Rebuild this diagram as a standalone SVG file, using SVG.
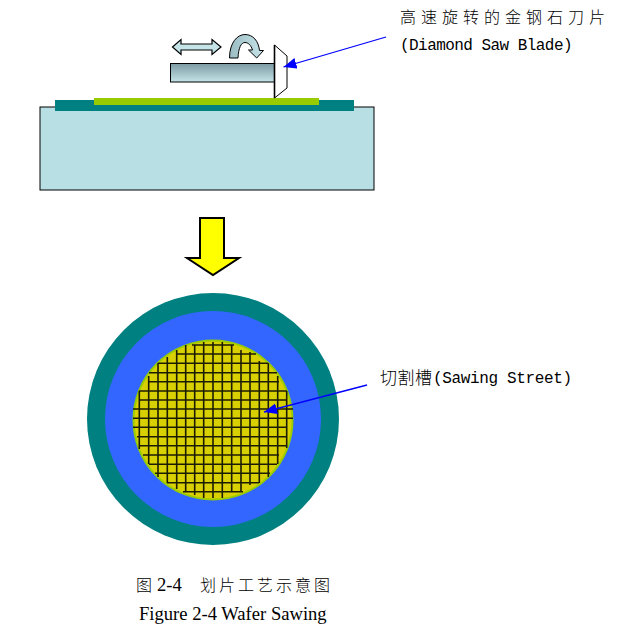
<svg xmlns="http://www.w3.org/2000/svg" width="619" height="629" viewBox="0 0 619 629">
<style>
.ol{stroke:#000;stroke-width:1}
.mono{font-family:"Liberation Mono",monospace;font-size:16px;fill:#000}
.cjk{font-family:"Noto Sans CJK SC",sans-serif;font-size:16px;fill:#000;font-weight:300}
.ser{font-family:"Liberation Serif",serif;font-size:18.600px;fill:#000}
.ptr{stroke:#0000ff;stroke-width:1.300;fill:none;marker-end:url(#ah)}
</style>
<defs>
<linearGradient id="shaft" x1="0" y1="0" x2="0" y2="1"><stop offset="0" stop-color="#7b9aa2"/><stop offset="1" stop-color="#c4e4e8"/></linearGradient>
<linearGradient id="curl" x1="0" y1="0" x2="1" y2="0"><stop offset="0" stop-color="#9cbcc4"/><stop offset="1" stop-color="#c4e4e8"/></linearGradient>
<marker id="ah" markerUnits="userSpaceOnUse" markerWidth="14" markerHeight="12" refX="13" refY="5.500" orient="auto"><path d="M0,0 L13,5.500 L0,11 Z" fill="#0000ff"/></marker>
</defs>
<rect width="619" height="629" fill="#fff"/>
<g id="table"><rect x="40" y="107" width="334" height="83" fill="#b8dfe3" class="ol"/></g>
<g id="tape"><rect x="55" y="100" width="299" height="11" fill="#008080"/></g>
<g id="wafer-side"><rect x="94" y="98" width="225" height="7" fill="#99cc00"/></g>
<g id="spindle"><rect x="170.500" y="63.500" width="104" height="18.500" fill="url(#shaft)" class="ol"/></g>
<g id="blade"><path d="M274.500,45 L287,56 L287,88 L274.500,98 Z" fill="#fff" class="ol"/><path d="M274.500,45 V98" stroke="#000" stroke-width="1.600"/></g>
<g id="move-arrow"><path d="M172.500,47 L181,39.500 V44 H212 V39.500 L221,47 L212,54.500 V50 H181 V54.500 Z" fill="#c4e4e8" stroke="#000" stroke-width="1.200"/></g>
<g id="spin-arrow"><path d="M229.500,58 C229.500,43 237,34.500 245,34.500 C253,34.500 258.500,41 259.500,50.500 L263.500,50.500 L256.700,58 L248.500,50 L252.500,50 C251,45 248,42.500 245,42.500 C241,42.500 238.500,48 238,58 Z" fill="url(#curl)" stroke="#000" stroke-width="1"/></g>
<g id="down-arrow"><path d="M200,218 H224 V258 H239 L213,275 L187,258 H200 Z" fill="#ffff00" stroke="#000" stroke-width="2"/></g>
<g id="wafer-top">
<circle cx="213" cy="419" r="126" fill="#008080"/>
<circle cx="213" cy="419" r="108" fill="#3366ff"/>
<circle cx="213" cy="420" r="79.500" fill="#d8d000" stroke="#99cc00" stroke-width="2"/>
<path stroke="#1c1c00" stroke-width="1.600" fill="none" d="M139.300,391V449M148.700,376V464M158,363V477M167.300,357V483M176.700,350V489M185.700,345V492M194.700,345V495M203.700,342V498M213,342V498M222.300,342V498M231.700,345V492M241,350V492M250,352V485M259.300,361V483M268.300,363V477M277.700,376V464M286.700,391V448M192,345H234M176,354H256M158,363.300H268M149,372.700H277M149,381.700H279M139,391H287M139,400H287M133,409H293M133,418.300H293M133,427.300H287M137,436.700H287M139,445.700H287M143,455H279M149,464.300H277M155,473.300H270M167,482.700H259M183,491.700H243"/>
</g>
<g id="connectors">
<path class="ptr" d="M386,37 L283.500,67"/>
<path class="ptr" d="M367,385 L264,412"/>
</g>
<g id="label-blade">
<text class="cjk" x="400" y="23" letter-spacing="5">高速旋转的金钢石刀片</text>
<text class="mono" x="400" y="50" letter-spacing="-0.550">(Diamond Saw Blade)</text>
</g>
<g id="label-street">
<text class="cjk" x="380" y="384" style="font-size:17px" letter-spacing="0.500">切割槽</text>
<text class="mono" x="433" y="383" letter-spacing="-0.350">(Sawing Street)</text>
</g>
<g id="caption">
<text class="cjk" x="136" y="591">图</text>
<text class="ser" x="157" y="591">2-4</text>
<text class="cjk" x="200" y="591" letter-spacing="3">划片工艺示意图</text>
<text class="ser" x="139" y="620">Figure 2-4 Wafer Sawing</text>
</g>
</svg>
